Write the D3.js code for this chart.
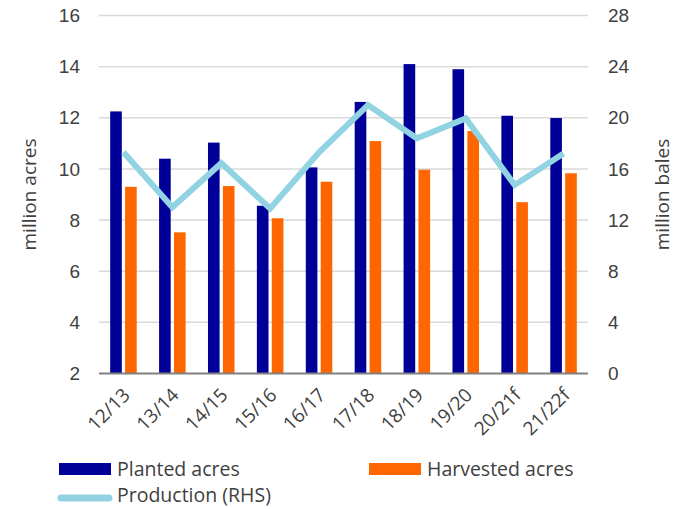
<!DOCTYPE html>
<html>
<head>
<meta charset="utf-8">
<script src="https://cdn.jsdelivr.net/npm/d3@7"></script>
<style>
  html, body { margin: 0; padding: 0; background: #fff; }
  svg { display: block; font-family: "Open Sans", "Noto Sans", sans-serif; }
  .tick text { fill: #404040; font-size: 19px; }
</style>
</head>
<body>
<svg id="chart" width="682" height="509"></svg>
<script>
// Marketing years
const seasons = ["12/13", "13/14", "14/15", "15/16", "16/17", "17/18", "18/19", "19/20", "20/21f", "21/22f"];
// Area, million acres (left axis)
const planted   = [12.25, 10.4, 11.03, 8.56, 10.06, 12.62, 14.1, 13.9, 12.08, 11.99];
const harvested = [9.3, 7.52, 9.33, 8.07, 9.5, 11.09, 9.97, 11.48, 8.7, 9.83];
// Production, million bales (right axis)
const production = [17.3, 13.0, 16.45, 12.9, 17.3, 21.0, 18.4, 19.95, 14.75, 17.2];
// Axis ticks
const leftTicks  = [2, 4, 6, 8, 10, 12, 14, 16];
const rightTicks = [0, 4, 8, 12, 16, 20, 24, 28];

const colors = { planted: "#000099", harvested: "#FF6600", production: "#92D3E3" };

const svg = d3.select("#chart");
const m = { left: 99, right: 588, top: 15.5, bottom: 373.5 };

const x = d3.scaleBand().domain(seasons).range([m.left, m.right]).paddingInner(0).paddingOuter(0);
const yL = d3.scaleLinear().domain([2, 16]).range([m.bottom, m.top]);
const yR = d3.scaleLinear().domain([0, 28]).range([m.bottom, m.top]);

// Horizontal gridlines
svg.append("g")
  .selectAll("line")
  .data(leftTicks.slice(1))
  .join("line")
  .attr("x1", m.left).attr("x2", m.right)
  .attr("y1", d => yL(d)).attr("y2", d => yL(d))
  .attr("stroke", "#d9d9d9").attr("stroke-width", 1.5);

// Left axis
const axL = svg.append("g").attr("transform", `translate(${m.left},0)`)
  .call(d3.axisLeft(yL).tickValues(leftTicks).tickSize(0).tickPadding(19));
axL.select(".domain").remove();

// Right axis
const axR = svg.append("g").attr("transform", `translate(${m.right},0)`)
  .call(d3.axisRight(yR).tickValues(rightTicks).tickSize(0).tickPadding(20));
axR.select(".domain").remove();

// Grouped bars
const sub = d3.scaleBand().domain(["planted", "harvested"]).range([0, x.bandwidth()])
  .paddingInner(0.22).paddingOuter(0.75);

const series = [
  { key: "planted", values: planted },
  { key: "harvested", values: harvested }
];
series.forEach(s => {
  svg.append("g")
    .selectAll("rect")
    .data(seasons.map((c, i) => ({ c, v: s.values[i] })))
    .join("rect")
    .attr("x", d => x(d.c) + sub(s.key))
    .attr("width", sub.bandwidth())
    .attr("y", d => yL(d.v))
    .attr("height", d => yL(2) - yL(d.v))
    .attr("fill", colors[s.key]);
});

// Baseline
svg.append("line")
  .attr("x1", m.left).attr("x2", m.right)
  .attr("y1", m.bottom).attr("y2", m.bottom)
  .attr("stroke", "#808080").attr("stroke-width", 2);

// Production line (right axis)
const line = d3.line()
  .x((d, i) => x(seasons[i]) + x.bandwidth() / 2)
  .y(d => yR(d));
svg.append("path")
  .datum(production)
  .attr("d", line)
  .attr("fill", "none")
  .attr("stroke", colors.production)
  .attr("stroke-width", 6)
  .attr("stroke-linejoin", "miter");

// Category labels, rotated
svg.append("g")
  .selectAll("text")
  .data(seasons)
  .join("text")
  .attr("transform", d => `translate(${x(d) + x.bandwidth() / 2 + 3},${m.bottom + 18}) rotate(-45)`)
  .attr("text-anchor", "end")
  .attr("dy", "0.35em")
  .attr("fill", "#404040")
  .attr("font-size", 19)
  .text(d => d);

// Axis titles
svg.append("text")
  .attr("transform", `translate(36,${(m.top + m.bottom) / 2}) rotate(-90)`)
  .attr("text-anchor", "middle")
  .attr("fill", "#404040").attr("font-size", 19)
  .text("million acres");
svg.append("text")
  .attr("transform", `translate(669,${(m.top + m.bottom) / 2}) rotate(-90)`)
  .attr("text-anchor", "middle")
  .attr("fill", "#404040").attr("font-size", 19)
  .text("million bales");

// Legend
const lg = svg.append("g").attr("font-size", 19.5).attr("fill", "#404040");
const legendItems = [
  { label: "Planted acres", key: "planted", type: "rect", x: 59, y: 469 },
  { label: "Harvested acres", key: "harvested", type: "rect", x: 369, y: 469 },
  { label: "Production (RHS)", key: "production", type: "line", x: 59, y: 495 }
];
legendItems.forEach(it => {
  if (it.type === "rect") {
    lg.append("rect").attr("x", it.x).attr("y", it.y - 6).attr("width", 52).attr("height", 12)
      .attr("fill", colors[it.key]);
  } else {
    lg.append("line").attr("x1", it.x + 2).attr("x2", it.x + 50).attr("y1", it.y + 3).attr("y2", it.y + 3)
      .attr("stroke", colors[it.key]).attr("stroke-width", 7).attr("stroke-linecap", "round");
  }
  lg.append("text").attr("x", it.x + 58).attr("y", it.y).attr("dy", "0.35em")
    .attr("fill", "#404040").text(it.label);
});
</script>
</body>
</html>
